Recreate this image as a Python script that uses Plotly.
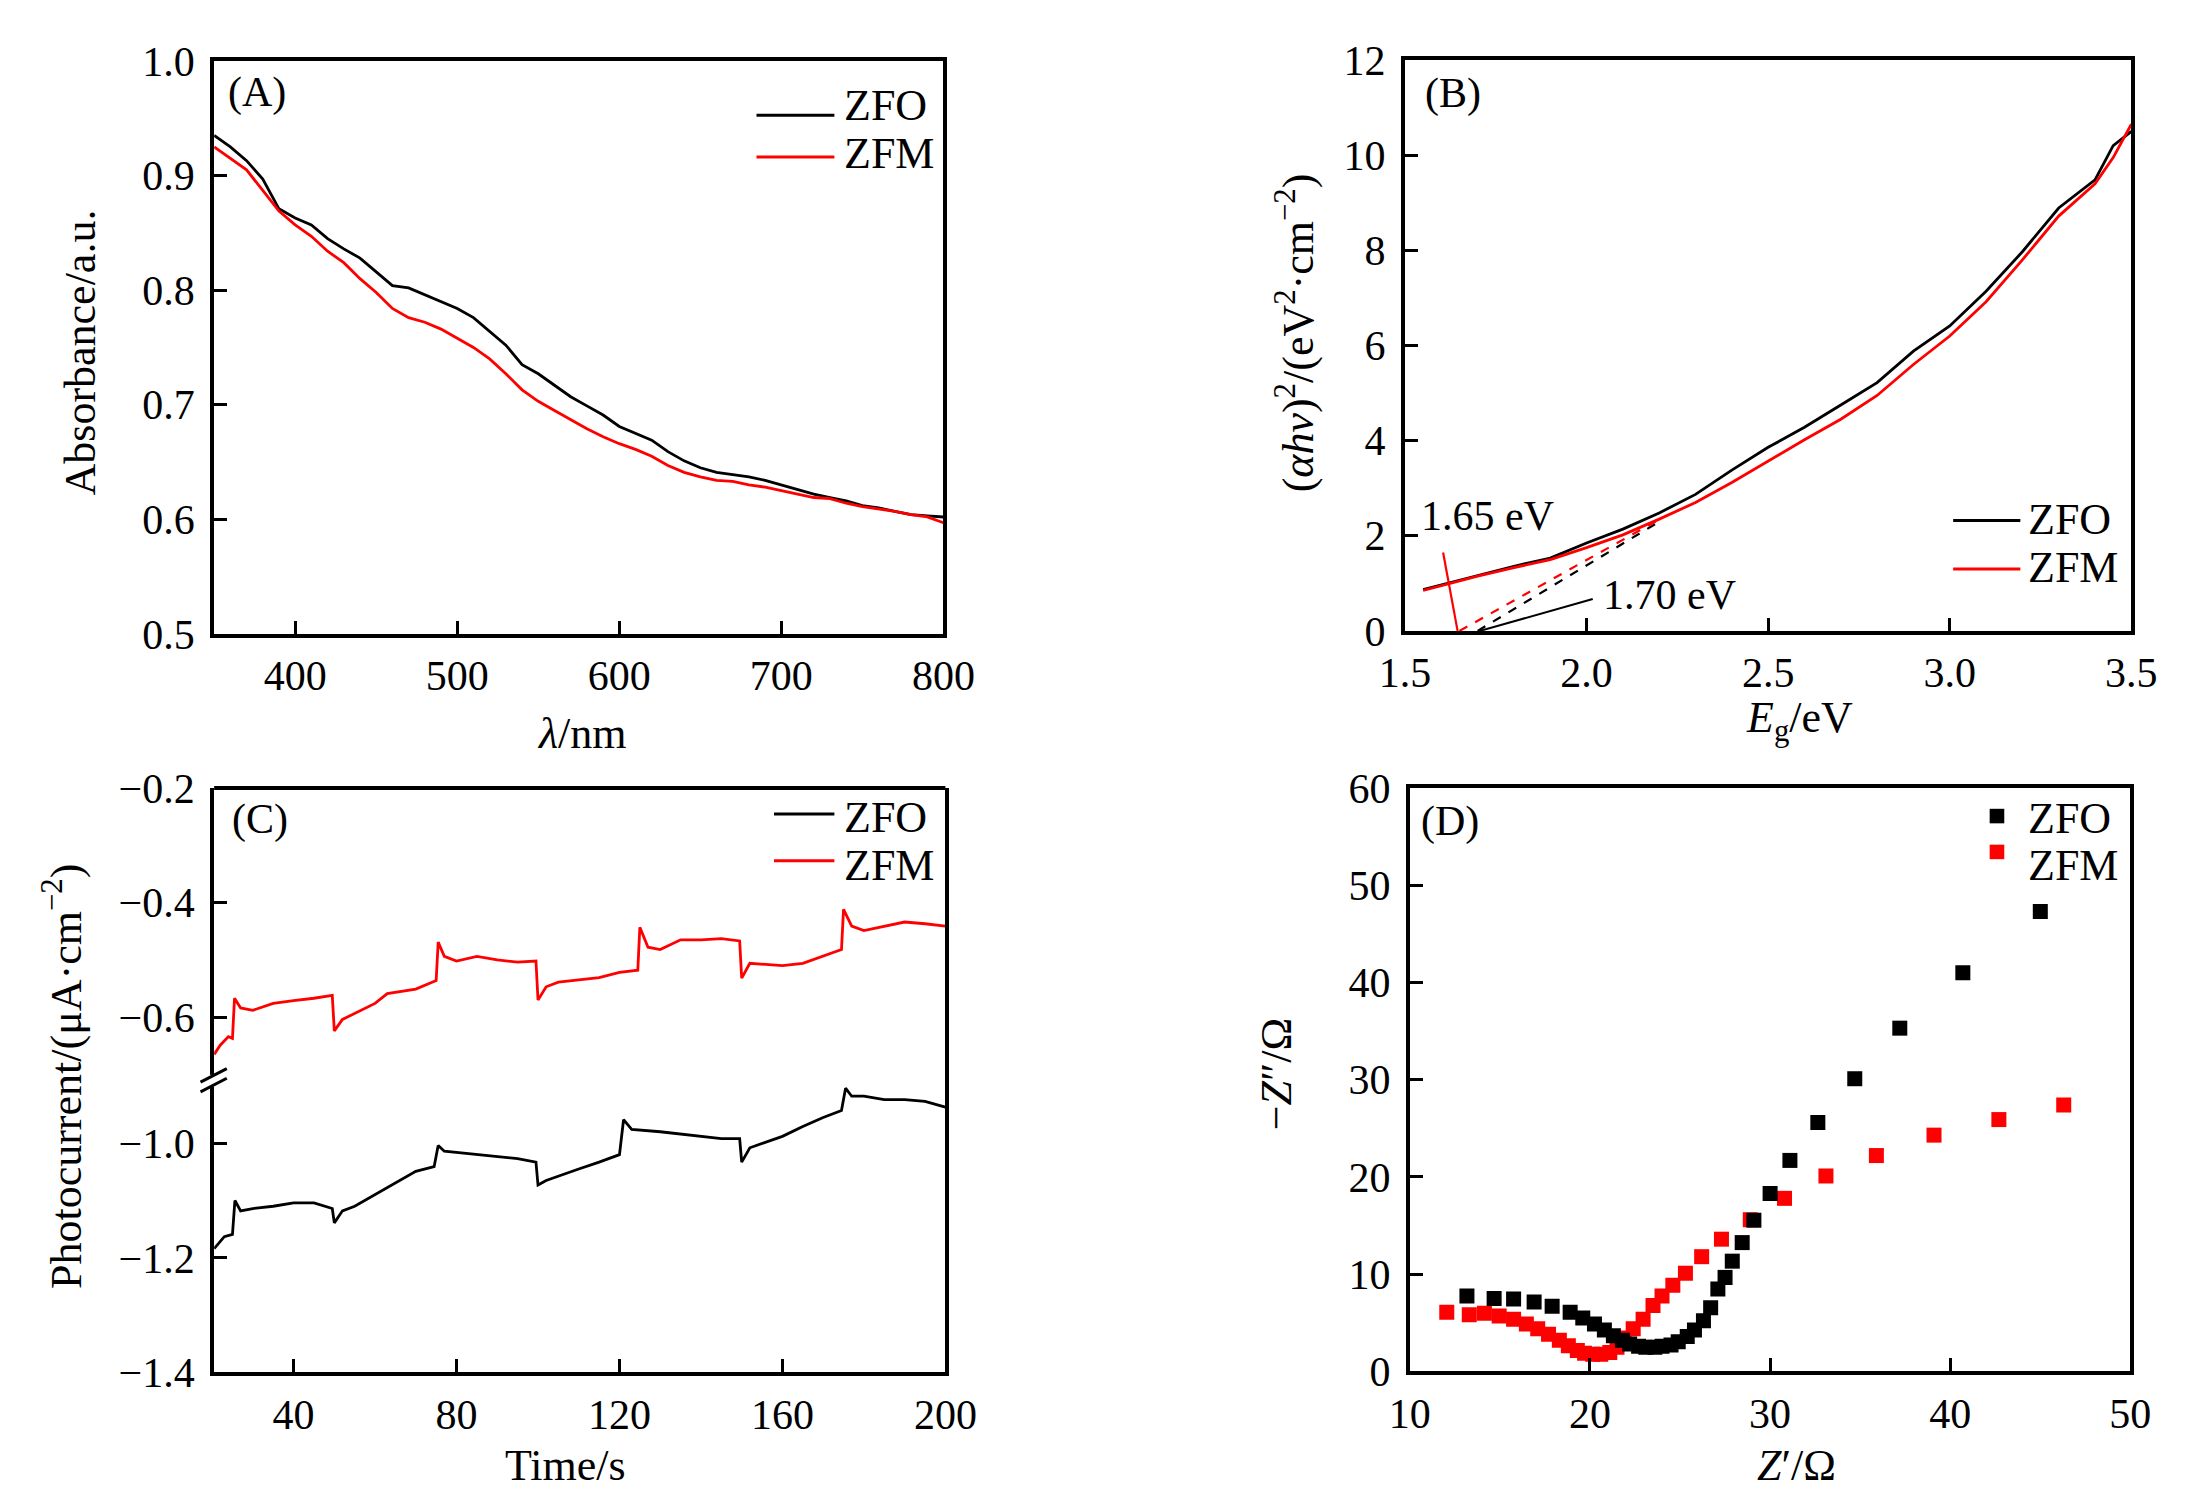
import plotly.graph_objects as go

W, H = 2205, 1496
FONT = "Liberation Serif, Times New Roman, serif"
RED = "#ff0000"
BLACK = "#000000"

# ---- (A) absorbance spectra ----
wl = [350, 360, 370, 380, 390, 400, 410, 420, 430, 440, 450, 460, 470, 480, 490,
      500, 510, 520, 530, 540, 550, 560, 570, 580, 590, 600, 610, 620, 630, 640,
      650, 660, 670, 680, 690, 700, 710, 720, 730, 740, 750, 760, 770, 780, 790, 800]
abs_zfo = [0.935, 0.925, 0.913, 0.897, 0.871, 0.863, 0.857, 0.845, 0.836, 0.828,
           0.816, 0.804, 0.802, 0.796, 0.790, 0.784, 0.776, 0.764, 0.752, 0.735,
           0.727, 0.717, 0.707, 0.699, 0.691, 0.681, 0.675, 0.669, 0.659, 0.651,
           0.645, 0.641, 0.639, 0.637, 0.634, 0.630, 0.626, 0.622, 0.619, 0.616,
           0.612, 0.610, 0.607, 0.604, 0.603, 0.602]
abs_zfm = [0.925, 0.915, 0.905, 0.887, 0.869, 0.857, 0.847, 0.834, 0.824, 0.810,
           0.798, 0.784, 0.776, 0.772, 0.766, 0.758, 0.750, 0.740, 0.727, 0.713,
           0.703, 0.695, 0.687, 0.679, 0.672, 0.666, 0.661, 0.655, 0.647, 0.641,
           0.637, 0.634, 0.633, 0.630, 0.628, 0.625, 0.622, 0.619, 0.618, 0.614,
           0.611, 0.609, 0.607, 0.604, 0.602, 0.597]

# ---- (B) Tauc plot ----
eg = [1.55, 1.6, 1.7, 1.8, 1.9, 2.0, 2.1, 2.2, 2.3, 2.4, 2.5, 2.6, 2.7, 2.8,
      2.9, 3.0, 3.1, 3.2, 3.3, 3.4, 3.45, 3.5]
tauc_zfo = [0.87, 0.97, 1.17, 1.36, 1.53, 1.85, 2.14, 2.48, 2.87, 3.38, 3.86,
            4.28, 4.75, 5.22, 5.88, 6.41, 7.14, 7.97, 8.89, 9.48, 10.2, 10.5]
tauc_zfm = [0.85, 0.95, 1.15, 1.33, 1.50, 1.75, 2.02, 2.35, 2.70, 3.12, 3.57,
            4.02, 4.45, 4.95, 5.60, 6.20, 6.92, 7.80, 8.72, 9.40, 9.95, 10.65]
# extrapolated band-gap lines: [x0, x1], [y0, y1]
fit_zfo_x, fit_zfo_y = [1.70, 2.19], [0.0, 2.25]
fit_zfm_x, fit_zfm_y = [1.65, 2.19], [0.0, 2.3]
mark165_x, mark165_y = [1.605, 1.645], [1.65, 0.0]
ptr170_x, ptr170_y = [1.706, 2.017], [0.0, 0.67]

# ---- (C) photocurrent ----
t_zfo = [20.5, 23, 25, 25.6, 27, 30, 35, 40, 45, 49.5, 50, 52, 55, 60, 65, 70,
         74.5, 75.5, 77, 80, 85, 90, 95, 99.5, 100, 102, 105, 110, 115, 120,
         121, 123, 130, 135, 140, 145, 149.5, 150, 152, 155, 160, 165, 170,
         174.5, 175.5, 177, 180, 185, 190, 195, 200]
pc_zfo = [-1.184, -1.163, -1.159, -1.100, -1.118, -1.114, -1.110, -1.104, -1.104,
          -1.114, -1.139, -1.118, -1.110, -1.090, -1.069, -1.049, -1.041, -1.004,
          -1.014, -1.016, -1.020, -1.024, -1.027, -1.033, -1.073, -1.065, -1.057,
          -1.045, -1.033, -1.020, -0.959, -0.976, -0.980, -0.984, -0.988, -0.992,
          -0.992, -1.033, -1.008, -1.000, -0.988, -0.971, -0.955, -0.943, -0.904,
          -0.918, -0.918, -0.924, -0.924, -0.927, -0.937]
t_zfm = [20.5, 22, 24, 25, 25.5, 27, 30, 35, 40, 45, 49.5, 50, 52, 55, 60, 63,
         70, 74, 75, 75.5, 77, 80, 85, 90, 95, 99.5, 100, 102, 105, 110, 115,
         120, 124.5, 125, 127, 130, 135, 140, 145, 149.5, 150, 152, 155, 160,
         165, 170, 174.5, 175, 177, 180, 185, 190, 195, 200]
pc_zfm = [-0.665, -0.649, -0.634, -0.637, -0.567, -0.584, -0.588, -0.576, -0.571,
          -0.567, -0.562, -0.624, -0.604, -0.594, -0.576, -0.559, -0.551, -0.539,
          -0.536, -0.469, -0.494, -0.502, -0.494, -0.500, -0.504, -0.502, -0.570,
          -0.547, -0.539, -0.535, -0.531, -0.522, -0.518, -0.443, -0.478, -0.482,
          -0.465, -0.465, -0.463, -0.467, -0.532, -0.506, -0.508, -0.510, -0.506,
          -0.494, -0.482, -0.412, -0.441, -0.449, -0.441, -0.434, -0.437, -0.441]

# ---- (D) Nyquist ----
zr_zfo = [13.17, 14.68, 15.76, 16.9, 17.9, 18.9, 19.6, 20.25, 20.8, 21.3, 21.8,
          22.2, 22.7, 23.1, 23.6, 24.0, 24.5, 24.9, 25.4, 25.8, 26.3, 26.7,
          27.1, 27.5, 27.9, 28.45, 29.1, 30.0, 31.1, 32.65, 34.7, 37.2, 40.7, 45.0]
zi_zfo = [7.75, 7.51, 7.46, 7.13, 6.70, 6.08, 5.50, 4.88, 4.26, 3.68, 3.20, 2.82,
          2.58, 2.49, 2.49, 2.58, 2.73, 3.06, 3.59, 4.26, 5.20, 6.55, 8.47, 9.67,
          11.34, 13.25, 15.55, 18.3, 21.7, 25.6, 30.1, 35.3, 41.0, 47.3]
zr_zfm = [12.05, 13.3, 14.14, 14.96, 15.76, 16.47, 17.1, 17.7, 18.3, 18.8, 19.3,
          19.7, 20.15, 20.6, 21.1, 21.5, 21.9, 22.4, 22.95, 23.5, 24.0, 24.6,
          25.3, 26.2, 27.3, 28.9, 30.8, 33.1, 35.9, 39.1, 42.7, 46.3]
zi_zfm = [6.08, 5.84, 5.98, 5.69, 5.36, 4.88, 4.40, 3.83, 3.20, 2.63, 2.15, 1.87,
          1.77, 1.77, 1.96, 2.49, 3.44, 4.40, 5.36, 6.79, 7.75, 8.85, 10.1, 11.8,
          13.6, 15.6, 17.8, 20.1, 22.2, 24.3, 25.9, 27.4]


def px(x):
    return x / W


def py(y):
    return 1 - y / H


fig = go.Figure()

line_w = 2.8
fig.add_trace(go.Scatter(x=wl, y=abs_zfo, mode="lines", line=dict(color=BLACK, width=line_w),
                         xaxis="x", yaxis="y"))
fig.add_trace(go.Scatter(x=wl, y=abs_zfm, mode="lines", line=dict(color=RED, width=line_w),
                         xaxis="x", yaxis="y"))

fig.add_trace(go.Scatter(x=eg, y=tauc_zfo, mode="lines", line=dict(color=BLACK, width=line_w),
                         xaxis="x2", yaxis="y2"))
fig.add_trace(go.Scatter(x=eg, y=tauc_zfm, mode="lines", line=dict(color=RED, width=line_w),
                         xaxis="x2", yaxis="y2"))
fig.add_trace(go.Scatter(x=fit_zfo_x, y=fit_zfo_y, mode="lines",
                         line=dict(color=BLACK, width=2.2, dash="dash"), xaxis="x2", yaxis="y2"))
fig.add_trace(go.Scatter(x=fit_zfm_x, y=fit_zfm_y, mode="lines",
                         line=dict(color=RED, width=2.2, dash="dash"), xaxis="x2", yaxis="y2"))
fig.add_trace(go.Scatter(x=mark165_x, y=mark165_y, mode="lines",
                         line=dict(color=RED, width=2.2), xaxis="x2", yaxis="y2"))
fig.add_trace(go.Scatter(x=ptr170_x, y=ptr170_y, mode="lines",
                         line=dict(color=BLACK, width=2), xaxis="x2", yaxis="y2"))

fig.add_trace(go.Scatter(x=t_zfo, y=pc_zfo, mode="lines", line=dict(color=BLACK, width=line_w),
                         xaxis="x3", yaxis="y3"))
fig.add_trace(go.Scatter(x=t_zfm, y=pc_zfm, mode="lines", line=dict(color=RED, width=line_w),
                         xaxis="x3", yaxis="y5"))

fig.add_trace(go.Scatter(x=zr_zfm, y=zi_zfm, mode="markers",
                         marker=dict(symbol="square", size=15, color=RED),
                         xaxis="x4", yaxis="y4"))
fig.add_trace(go.Scatter(x=zr_zfo, y=zi_zfo, mode="markers",
                         marker=dict(symbol="square", size=15, color=BLACK),
                         xaxis="x4", yaxis="y4"))

tick_font = dict(family=FONT, size=42, color=BLACK)
ax = dict(showline=True, linewidth=4, linecolor=BLACK, mirror=True, ticks="inside",
          ticklen=13, tickwidth=3, tickcolor=BLACK, showgrid=False, zeroline=False,
          tickfont=tick_font)
xax = dict(ax, ticklabelstandoff=2)
yax = dict(ax, ticklabelstandoff=7)

# panel domains in pixels
A = (185, 934, 32, 623)
B = (1408, 2154, 31, 620)
C = (185, 936, 782, 1385)
D = (1413, 2153, 782, 1384)
c_mid = (C[2] + C[3]) / 2

fig.update_layout(
    width=W, height=H, margin=dict(l=0, r=0, t=0, b=0),
    paper_bgcolor="white", plot_bgcolor="white", showlegend=False,
    font=dict(family=FONT, color=BLACK),
    xaxis=dict(xax, domain=[px(A[0]), px(A[1])], anchor="y", range=[350, 800],
               tickvals=[400, 500, 600, 700, 800]),
    yaxis=dict(yax, domain=[py(A[3]), py(A[2])], anchor="x", range=[0.5, 1.0],
               tickvals=[0.5, 0.6, 0.7, 0.8, 0.9, 1.0], tickformat=".1f"),
    xaxis2=dict(xax, domain=[px(B[0]), px(B[1])], anchor="y2", range=[1.5, 3.5],
                tickvals=[1.5, 2.0, 2.5, 3.0, 3.5], tickformat=".1f"),
    yaxis2=dict(yax, domain=[py(B[3]), py(B[2])], anchor="x2", range=[0, 12],
                tickvals=[0, 2, 4, 6, 8, 10, 12]),
    xaxis3=dict(xax, domain=[px(C[0]), px(C[1])], anchor="y3", range=[20.5, 200],
                tickvals=[40, 80, 120, 160, 200], mirror=False),
    yaxis3=dict(yax, domain=[py(C[3]), py(c_mid)], anchor="x3", range=[-1.4, -0.89],
                tickvals=[-1.4, -1.2, -1.0], tickformat=".1f"),
    yaxis5=dict(yax, domain=[py(c_mid), py(C[2])], anchor="x3", range=[-0.71, -0.2],
                tickvals=[-0.6, -0.4, -0.2], tickformat=".1f"),
    xaxis4=dict(xax, domain=[px(D[0]), px(D[1])], anchor="y4", range=[10, 50],
                tickvals=[10, 20, 30, 40, 50]),
    yaxis4=dict(yax, domain=[py(D[3]), py(D[2])], anchor="x4", range=[0, 60],
                tickvals=[0, 10, 20, 30, 40, 50, 60]),
)

shapes = []
# top border of panel C (two stacked y axes)
shapes.append(dict(type="line", xref="paper", yref="paper", x0=px(C[0]), x1=px(C[1]),
                   y0=py(C[2]), y1=py(C[2]), line=dict(color=BLACK, width=4)))
# axis break marks on panel C
shapes.append(dict(type="rect", xref="paper", yref="paper", x0=px(179), x1=px(191),
                   y0=py(1090), y1=py(1078), fillcolor="white", line=dict(width=0)))
for dy in (-5, 5):
    shapes.append(dict(type="line", xref="paper", yref="paper",
                       x0=px(171), y0=py(c_mid + dy + 7), x1=px(198), y1=py(c_mid + dy - 7),
                       line=dict(color=BLACK, width=3)))


# manual legends
def legend_line(x0, x1, y, color):
    shapes.append(dict(type="line", xref="paper", yref="paper", x0=px(x0), x1=px(x1),
                       y0=py(y), y1=py(y), line=dict(color=color, width=3)))


def legend_square(xc, yc, color):
    shapes.append(dict(type="rect", xref="paper", yref="paper", x0=px(xc - 7.5), x1=px(xc + 7.5),
                       y0=py(yc + 7.5), y1=py(yc - 7.5), fillcolor=color, line=dict(width=0)))


legend_line(742, 822, 88, BLACK)
legend_line(742, 822, 131, RED)
legend_line(1971, 2040, 506, BLACK)
legend_line(1971, 2040, 556, RED)
legend_line(760, 822, 809, BLACK)
legend_line(760, 822, 857, RED)
legend_square(2016, 811, BLACK)
legend_square(2016, 848, RED)

annotations = []


def label(text, x, y, size=44, xanchor="left", angle=0, xref="paper", yref="paper"):
    if xref == "paper":
        x, y = px(x), py(y)
    annotations.append(dict(text=text, x=x, y=y, xref=xref, yref=yref, showarrow=False,
                            xanchor=xanchor, yanchor="middle", textangle=angle,
                            font=dict(family=FONT, size=size, color=BLACK)))


# legend texts
for xl, ys in ((830, (78, 127)), (2046, (505, 555)), (830, (812, 862)), (2046, (814, 862))):
    label("ZFO", xl, ys[0])
    label("ZFM", xl, ys[1])

# panel letters
label("(A)", 197, 64, size=42)
label("(B)", 1427, 65, size=42)
label("(C)", 201, 815, size=42)
label("(D)", 1422, 817, size=42)

# axis titles
label("<i>λ</i>/nm", 563, 726, xanchor="center")
label("Absorbance/a.u.", 48, 333, xanchor="center", angle=-90)
label("<i>E</i><sub>g</sub>/eV", 1813, 712, xanchor="center")
label("(<i>αhν</i>)<sup>2</sup>/(eV<sup>2</sup>·cm<sup>−2</sup>)", 1295, 312,
      xanchor="center", angle=-90)
label("Time/s", 546, 1481, xanchor="center")
label("Photocurrent/(μA·cm<sup>−2</sup>)", 30, 1080, xanchor="center", angle=-90)
label("<i>Z</i>′/Ω", 1810, 1481, xanchor="center")
label("−<i>Z</i>″/Ω", 1276, 1077, xanchor="center", angle=-90)

# band-gap values
label("1.65 eV", 1.54, 2.42, size=42, xref="x2", yref="y2")
label("1.70 eV", 2.04, 0.76, size=42, xref="x2", yref="y2")

fig.update_layout(shapes=shapes, annotations=annotations)

fig.write_html("out.html")
